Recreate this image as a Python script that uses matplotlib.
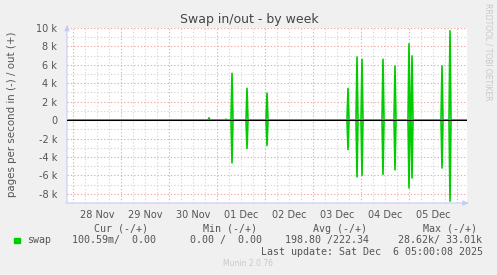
import matplotlib
matplotlib.use("Agg")
import matplotlib.pyplot as plt
import matplotlib.dates as mdates
import numpy as np
import pandas as pd

# ---- data ----
spike_times = ["2025-11-30 20:00", "2025-12-01 04:30", "2025-12-01 07:30",
               "2025-12-01 15:00", "2025-12-02 01:00", "2025-12-03 17:30",
               "2025-12-03 22:00", "2025-12-04 00:30", "2025-12-04 11:00",
               "2025-12-04 17:00", "2025-12-05 00:00", "2025-12-05 01:30",
               "2025-12-05 16:30", "2025-12-05 20:30"]
swap_out = [250, 100, 5080, 3450, 2930, 3450, 6850, 6600, 6600, 5870, 8280, 6970, 5870, 9700]
swap_in = [0, 0, 4640, 3080, 2750, 3200, 6160, 6000, 5900, 5400, 7360, 6280, 5200, 8800]

yticks = [-8000, -6000, -4000, -2000, 0, 2000, 4000, 6000, 8000, 10000]
ytick_labels = ["-8 k", "-6 k", "-4 k", "-2 k", "0", "2 k", "4 k", "6 k", "8 k", "10 k"]
day_labels = ["28 Nov", "29 Nov", "30 Nov", "01 Dec", "02 Dec", "03 Dec", "04 Dec", "05 Dec"]
day_dates = ["2025-11-28", "2025-11-29", "2025-11-30", "2025-12-01",
             "2025-12-02", "2025-12-03", "2025-12-04", "2025-12-05"]

end_time = pd.Timestamp("2025-12-06 05:00")
start_time = end_time - pd.Timedelta(hours=200)

legend_headers = ["Cur (-/+)", "Min (-/+)", "Avg (-/+)", "Max (-/+)"]
legend_values = ["100.59m/  0.00", "0.00 /  0.00", "198.80 /222.34", "28.62k/ 33.01k"]
last_update = "Last update: Sat Dec  6 05:00:08 2025"

# ---- build series at 30 min resolution ----
times = pd.date_range(start_time, end_time, freq="30min")
out_series = pd.Series(0.0, index=times)
in_series = pd.Series(0.0, index=times)
for t, o, i in zip(spike_times, swap_out, swap_in):
    out_series[pd.Timestamp(t)] = o
    in_series[pd.Timestamp(t)] = i

W, H = 497, 275
fig = plt.figure(figsize=(W / 100, H / 100), dpi=100)
fig.patch.set_facecolor("#F0F0F0")
ax = fig.add_axes([67 / W, (H - 203) / H, 400 / W, 175 / H])
ax.set_facecolor("white")

xmin = mdates.date2num(start_time)
xmax = mdates.date2num(end_time)
ax.set_xlim(xmin, xmax)
ax.set_ylim(-9000, 10000)

# grid
minor_col = "#D8D8D8"
major_col = "#F0A8A8"
for h in pd.date_range("2025-11-28", end_time, freq="6h"):
    if h.hour != 0:
        ax.axvline(mdates.date2num(h), color=minor_col, lw=0.8, ls=(0, (1.2, 1.8)), zorder=1)
for d in pd.date_range("2025-11-28", end_time, freq="1D"):
    ax.axvline(mdates.date2num(d), color=major_col, lw=0.8, ls=(0, (1.2, 1.8)), zorder=1.1)
for y in range(-9000, 10001, 1000):
    if y % 2000 != 0:
        ax.axhline(y, color=minor_col, lw=0.8, ls=(0, (1.2, 1.8)), zorder=1)
for y in yticks:
    ax.axhline(y, color=major_col, lw=0.8, ls=(0, (1.2, 1.8)), zorder=1.1)

# data
tn = mdates.date2num(times)
ax.plot(tn, out_series.values, color="#00CC00", lw=1.2, zorder=3)
ax.plot(tn, -in_series.values, color="#00CC00", lw=1.2, zorder=3)
ax.axhline(0, color="black", lw=0.75, zorder=4)

for s in ax.spines.values():
    s.set_visible(False)

ax.set_yticks(yticks)
ax.set_yticklabels(ytick_labels)
noon = [mdates.date2num(pd.Timestamp(d) + pd.Timedelta(hours=12)) for d in day_dates]
ax.set_xticks(noon)
ax.set_xticklabels(day_labels)
ax.tick_params(axis="both", length=0, labelsize=7, labelcolor="#555555")
ax.tick_params(axis="y", pad=7)
ax.tick_params(axis="x", pad=5)

# axes with arrows
axis_col = "#C8CCF4"
ax.annotate("", xy=(0, 1.035), xytext=(0, -0.01), xycoords="axes fraction",
            arrowprops=dict(arrowstyle="-|>,head_length=0.35,head_width=0.15", color=axis_col, lw=0.8),
            annotation_clip=False)
ax.annotate("", xy=(1.012, 0), xytext=(-0.01, 0), xycoords="axes fraction",
            arrowprops=dict(arrowstyle="-|>,head_length=0.35,head_width=0.15", color=axis_col, lw=0.8),
            annotation_clip=False)

# titles
fig.text(249 / W, 1 - 19 / H, "Swap in/out - by week", ha="center", va="center",
         fontsize=9, color="#444444")
fig.text(12 / W, 1 - 114 / H, "pages per second in (-) / out (+)", rotation=90,
         ha="center", va="center", fontsize=7.4, color="#555555")
fig.text(488 / W, 1 - 52 / H, "RRDTOOL / TOBI OETIKER", rotation=270,
         ha="center", va="center", fontsize=5.5, color="#C8C8C8")

# legend
mono = "DejaVu Sans Mono"
fs = 7.2
fig.patches.append(plt.Rectangle((14 / W, 1 - 242.5 / H), 5.5 / W, 5 / H,
                                 transform=fig.transFigure, color="#00CC00"))
fig.text(27 / W, 1 - 240 / H, "swap", ha="left", va="center", fontsize=fs,
         family=mono, color="#555555")
header_x = [94, 203, 313, 423]
value_x = [72, 190, 285, 398]
for hx, htxt in zip(header_x, legend_headers):
    fig.text(hx / W, 1 - 228.5 / H, htxt, ha="left", va="center", fontsize=fs,
             family=mono, color="#555555")
for vx, vtxt in zip(value_x, legend_values):
    fig.text(vx / W, 1 - 240 / H, vtxt, ha="left", va="center", fontsize=fs,
             family=mono, color="#555555")
fig.text(483 / W, 1 - 251.7 / H, last_update, ha="right", va="center", fontsize=fs,
         family=mono, color="#555555")
fig.text(248 / W, 1 - 264 / H, "Munin 2.0.76", ha="center", va="center",
         fontsize=5.5, color="#C8C8C8")

fig.savefig("out.png", dpi=100, facecolor=fig.get_facecolor())
